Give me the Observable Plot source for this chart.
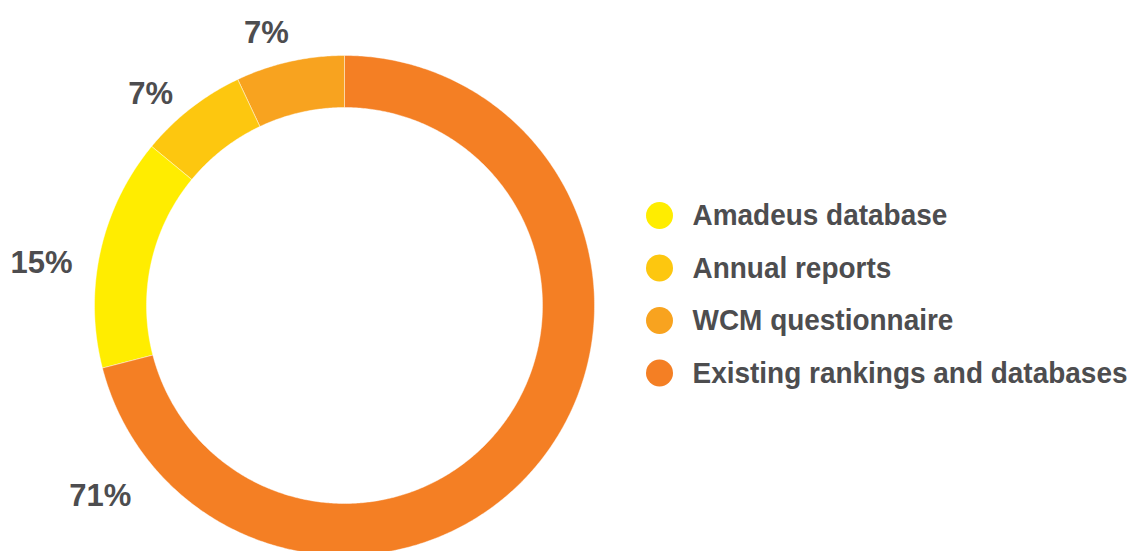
<!DOCTYPE html>
<html><head><meta charset="utf-8">
<script src="https://cdn.jsdelivr.net/npm/d3@7"></script>
<script src="https://cdn.jsdelivr.net/npm/@observablehq/plot@0.6"></script>
<style>html,body{margin:0;padding:0;background:#fff;overflow:hidden}</style>
</head><body><div id="chart"></div>
<script>
// ---- data ----
const categories = ["Amadeus database", "Annual reports", "WCM questionnaire", "Existing rankings and databases"];
const shares = [15, 7, 7, 71];
const colors = ["#FFED00", "#FDC70F", "#F8A31F", "#F47F24"];
const valueLabels = ["15%", "7%", "7%", "71%"];
const clockwiseOrder = [3, 0, 1, 2]; // slice order clockwise from 12 o'clock

// ---- layout ----
const W = 1131, H = 551;
const cx = 344, cy = 305, rOut = 250, rIn = 198;
const labelPos = [{a: 278, r: 306}, {a: 317.5, r: 287}, {a: 344, r: 283}, {a: 232, r: 310}];
const legendX = 659, legendY0 = 215, legendStep = 52.5, legendTextX = 692, legendMaxWidth = 435;
const textColor = "#4D4D4F";

const total = d3.sum(shares);
const pt = (deg, r) => [cx + r * Math.sin(deg * Math.PI / 180), cy - r * Math.cos(deg * Math.PI / 180)];

// build ring polygons for each slice
const ringPts = [];
let acc = 0;
for (const i of clockwiseOrder) {
  const a0 = acc / total * 360, a1 = (acc + shares[i]) / total * 360;
  acc += shares[i];
  const n = Math.max(2, Math.ceil(a1 - a0) * 2);
  for (let k = 0; k <= n; k++) { const [x, y] = pt(a0 + (a1 - a0) * k / n, rOut); ringPts.push({x, y, cat: categories[i]}); }
  for (let k = n; k >= 0; k--) { const [x, y] = pt(a0 + (a1 - a0) * k / n, rIn); ringPts.push({x, y, cat: categories[i]}); }
}

const labelData = categories.map((c, i) => { const [x, y] = pt(labelPos[i].a, labelPos[i].r); return {x, y, text: valueLabels[i]}; });
const legendData = categories.map((c, i) => ({cat: c, x: legendX, tx: legendTextX, y: legendY0 + i * legendStep}));

const chart = Plot.plot({
  width: W, height: H,
  margin: 0,
  x: {domain: [0, W], range: [0, W], axis: null},
  y: {domain: [0, H], range: [0, H], axis: null},
  color: {domain: categories, range: colors},
  style: {background: "#fff"},
  marks: [
    Plot.line(ringPts, {x: "x", y: "y", z: "cat", fill: "cat", stroke: "#ffffff", strokeWidth: 0.6, strokeOpacity: 0.7, curve: "linear-closed"}),
    Plot.text(labelData, {x: "x", y: "y", text: "text", fontSize: 31, fontWeight: "bold", fill: textColor, fontFamily: "Liberation Sans, Arial, sans-serif"}),
    Plot.dot(legendData, {x: "x", y: "y", r: 13.5, fill: "cat"}),
    Plot.text(legendData, {x: "tx", y: "y", text: "cat", textAnchor: "start", fontSize: 30, fontWeight: "bold", fill: textColor, fontFamily: "Liberation Sans, Arial, sans-serif", className: "legend-text"})
  ]
});
document.getElementById("chart").append(chart);

// condense legend text to the reference's narrow gothic width
const legendTexts = chart.querySelectorAll(".legend-text text");
const lens = Array.from(legendTexts, t => t.getComputedTextLength());
const factor = legendMaxWidth / d3.max(lens);
legendTexts.forEach((t, i) => {
  t.setAttribute("textLength", lens[i] * factor);
  t.setAttribute("lengthAdjust", "spacingAndGlyphs");
});
</script>
</body></html>
